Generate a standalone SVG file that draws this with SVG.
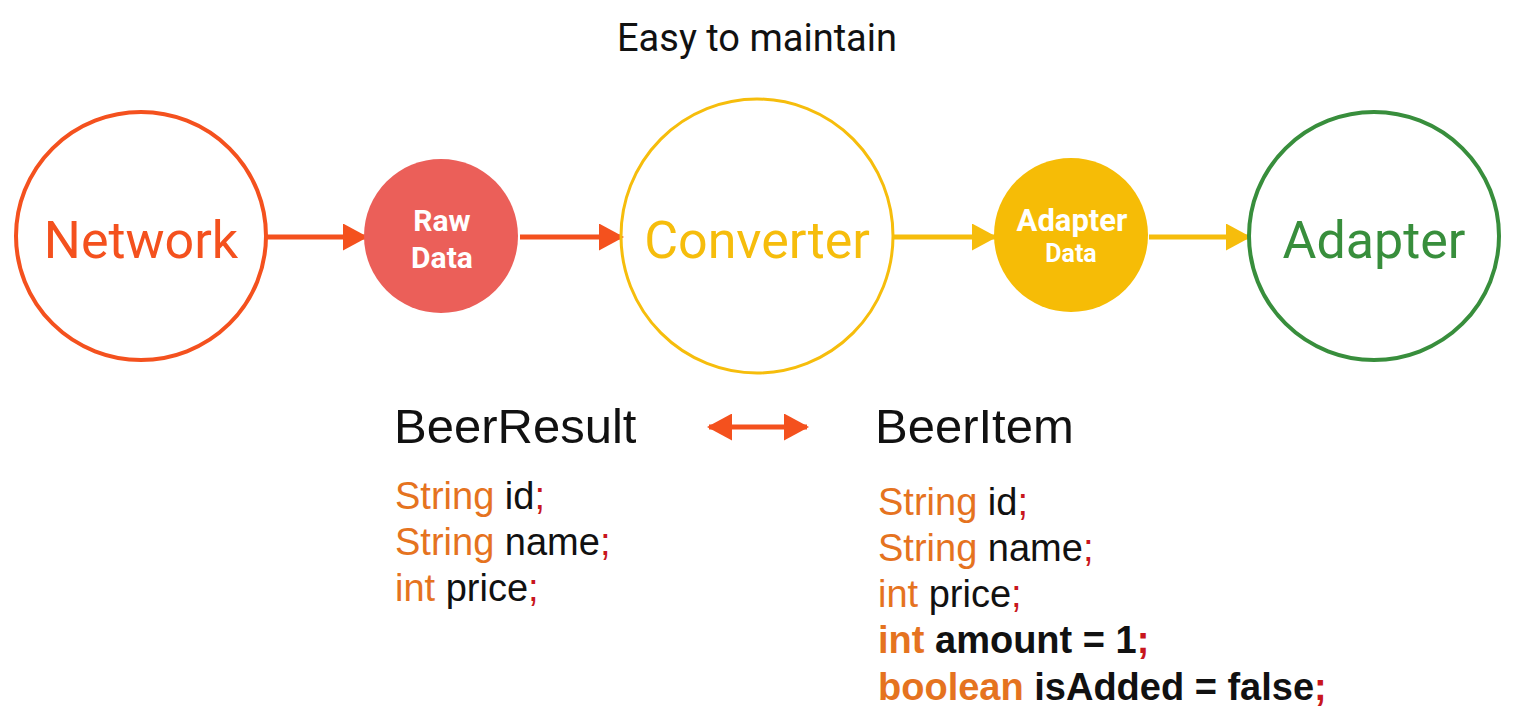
<svg xmlns="http://www.w3.org/2000/svg" width="1529" height="728" viewBox="0 0 1529 728">
<style>
.big{font-family:Roboto,"Liberation Sans",sans-serif;font-size:52px;text-anchor:middle}
.small{font-family:Roboto,"Liberation Sans",sans-serif;font-weight:bold;fill:#fff;text-anchor:middle}
.code{font-family:"Helvetica Neue","Liberation Sans",Arial,sans-serif;font-size:38px;fill:#111}
.head{font-size:49px}
.bold{font-weight:bold}
.kw{fill:#E5731F}
.sc{fill:#C8161D}
</style>
<defs>
<marker id="ahO" markerWidth="5" markerHeight="5.4" refX="4.6" refY="2.7" orient="auto" markerUnits="strokeWidth"><path d="M0,0 L5,2.7 L0,5.4 z" fill="#F4511E"/></marker>
<marker id="ahY" markerWidth="5" markerHeight="5.4" refX="4.6" refY="2.7" orient="auto" markerUnits="strokeWidth"><path d="M0,0 L5,2.7 L0,5.4 z" fill="#F6BD0C"/></marker>
<marker id="ahO2" markerWidth="5" markerHeight="5.4" refX="4.6" refY="2.7" orient="auto-start-reverse" markerUnits="strokeWidth"><path d="M0,0 L5,2.7 L0,5.4 z" fill="#F4511E"/></marker>
</defs>
<rect width="1529" height="728" fill="#fff"/>
<text x="757" y="51" font-family="Roboto,'Liberation Sans',sans-serif" font-size="38" text-anchor="middle" fill="#111">Easy to maintain</text>
<g id="connectors" stroke-width="5" fill="none">
<line x1="266" y1="237" x2="366" y2="237" stroke="#F4511E" marker-end="url(#ahO)"/>
<line x1="520" y1="237" x2="622" y2="237" stroke="#F4511E" marker-end="url(#ahO)"/>
<line x1="894" y1="237" x2="995" y2="237" stroke="#F6BD0C" marker-end="url(#ahY)"/>
<line x1="1149" y1="237" x2="1249" y2="237" stroke="#F6BD0C" marker-end="url(#ahY)"/>
<line x1="709" y1="427" x2="807" y2="427" stroke="#F4511E" marker-start="url(#ahO2)" marker-end="url(#ahO2)"/>
</g>
<g id="network">
<ellipse cx="141" cy="236" rx="125" ry="124" fill="none" stroke="#F4511E" stroke-width="4"/>
<text x="141" y="258" class="big" fill="#F4511E">Network</text>
</g>
<g id="rawdata">
<circle cx="441" cy="236" r="77" fill="#EB5F59"/>
<text x="442" y="231" class="small" font-size="30">Raw</text>
<text x="442" y="268" class="small" font-size="30">Data</text>
</g>
<g id="converter">
<ellipse cx="757" cy="236" rx="136" ry="137" fill="none" stroke="#F6BD0C" stroke-width="3"/>
<text x="757" y="258" class="big" fill="#F6BD0C">Converter</text>
</g>
<g id="adapterdata">
<circle cx="1071" cy="235" r="77" fill="#F6BC06"/>
<text x="1072" y="231" class="small" font-size="31">Adapter</text>
<text x="1071" y="262" class="small" font-size="25">Data</text>
</g>
<g id="adapter">
<ellipse cx="1374" cy="236" rx="125" ry="124" fill="none" stroke="#388E3C" stroke-width="4"/>
<text x="1374" y="258" class="big" fill="#388E3C">Adapter</text>
</g>
<g id="beerresult">
<text x="394" y="443" class="code head">BeerResult</text>
<text x="395" y="509" class="code"><tspan class="kw">String</tspan> id<tspan class="sc">;</tspan></text>
<text x="395" y="555" class="code"><tspan class="kw">String</tspan> name<tspan class="sc">;</tspan></text>
<text x="395" y="601" class="code"><tspan class="kw">int</tspan> price<tspan class="sc">;</tspan></text>
</g>
<g id="beeritem">
<text x="875" y="443" class="code head">BeerItem</text>
<text x="878" y="515" class="code"><tspan class="kw">String</tspan> id<tspan class="sc">;</tspan></text>
<text x="878" y="561" class="code"><tspan class="kw">String</tspan> name<tspan class="sc">;</tspan></text>
<text x="878" y="607" class="code"><tspan class="kw">int</tspan> price<tspan class="sc">;</tspan></text>
<text x="878" y="653" class="code bold"><tspan class="kw">int</tspan> amount = 1<tspan class="sc">;</tspan></text>
<text x="878" y="700" class="code bold"><tspan class="kw">boolean</tspan> isAdded = false<tspan class="sc">;</tspan></text>
</g>
</svg>
